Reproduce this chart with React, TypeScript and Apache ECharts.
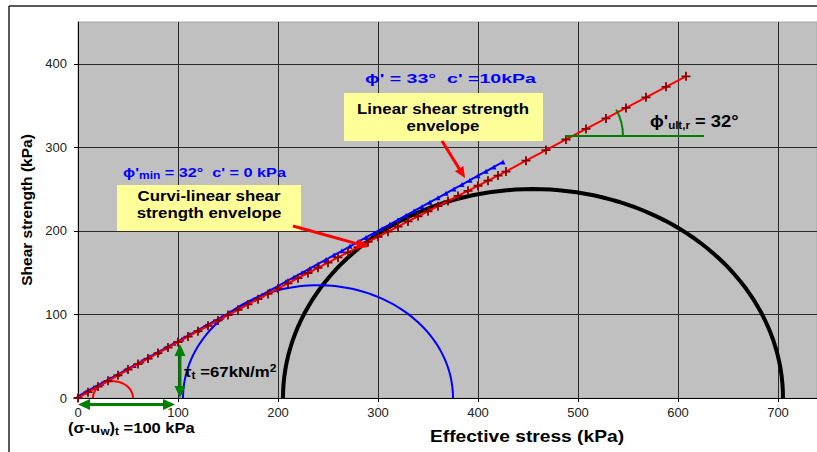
import React, { useEffect, useRef } from "react";
import * as echarts from "echarts";

// Curvi-linear shear strength envelope (effective stress, shear strength) in kPa
const curviStress = [
  0, 10, 20, 30, 40, 50, 60, 70, 80, 90, 100, 110, 120, 130, 140, 150, 160, 170, 180, 190, 200,
  210, 220, 230, 240, 250, 260, 270, 280, 290, 300, 310, 320, 330, 340, 350, 360, 370, 380, 390,
  400, 410, 420, 428, 448, 468, 488, 508, 528, 548, 568, 588, 608,
];
const curviShear = [
  0, 7, 13.7, 20.5, 27.2, 34, 40.6, 47.2, 53.8, 60.4, 67, 73.5, 80, 86.4, 92.8, 99.2, 105.6, 112,
  118.3, 124.6, 130.9, 137.2, 143.4, 149.6, 155.8, 162, 168.2, 174.4, 180.6, 186.8, 193, 199.1,
  205.2, 211.3, 217.4, 223.5, 229.6, 235.7, 241.8, 247.9, 254, 260.1, 266.2, 271, 284, 296.7, 309.4,
  322, 334.6, 347.2, 359.8, 372.4, 385,
];

// Linear shear strength envelope
const linearStress = [
  0, 8, 16, 24, 32, 40, 48, 56, 64, 72, 80, 88, 96, 104, 112, 120, 128, 136, 144, 152, 160, 168,
  176, 184, 192, 200, 208, 216, 224, 232, 240, 248, 256, 264, 272, 280, 288, 296, 304, 312, 320,
  328, 336, 344, 352, 360, 368, 376, 384, 392, 400, 408, 416, 425,
];
const linearShear = [
  2, 7.3, 12.6, 17.8, 23.1, 28.4, 33.7, 39, 44.2, 49.5, 54.8, 60.1, 65.4, 70.6, 75.9, 81.2, 86.5,
  91.8, 97, 102.3, 107.6, 112.9, 118.2, 123.4, 128.7, 134, 139.3, 144.6, 149.8, 155.1, 160.4,
  165.7, 171, 176.2, 181.5, 186.8, 192.1, 197.4, 202.6, 207.9, 213.2, 218.5, 223.8, 229, 234.3,
  239.6, 244.9, 250.2, 255.4, 260.7, 266, 271.3, 276.6, 282.5,
];

// Mohr circles: minor and major principal effective stresses (kPa)
const sigma3 = [205, 105, 15];
const sigma1 = [705, 375, 55];

// Annotated values
const tensileStress = 100;
const tensileShear = 67;

const xTicks = [0, 100, 200, 300, 400, 500, 600, 700];
const yTicks = [0, 100, 200, 300, 400];

const FONT = "'Liberation Sans', Arial, sans-serif";
const BLUE = "#0000ff";
const circleColors = ["#000000", BLUE, "#ff0000"];
const circleWidths = [4, 2, 2];

function arrow(
  x1: number, y1: number, x2: number, y2: number,
  color: string, width: number, both: boolean, headLen = 11, headW = 10
) {
  const els: any[] = [];
  const ang = Math.atan2(y2 - y1, x2 - x1);
  const head = (tx: number, ty: number, a: number) => {
    const bx = tx - headLen * Math.cos(a);
    const by = ty - headLen * Math.sin(a);
    const nx = (-Math.sin(a) * headW) / 2;
    const ny = (Math.cos(a) * headW) / 2;
    return {
      type: "polygon",
      shape: { points: [[tx, ty], [bx + nx, by + ny], [bx - nx, by - ny]] },
      style: { fill: color },
      z: 100,
    };
  };
  const sx = both ? x1 + (headLen - 2) * Math.cos(ang) : x1;
  const sy = both ? y1 + (headLen - 2) * Math.sin(ang) : y1;
  const ex = x2 - (headLen - 2) * Math.cos(ang);
  const ey = y2 - (headLen - 2) * Math.sin(ang);
  els.push({
    type: "line",
    shape: { x1: sx, y1: sy, x2: ex, y2: ey },
    style: { stroke: color, lineWidth: width },
    z: 100,
  });
  els.push(head(x2, y2, ang));
  if (both) els.push(head(x1, y1, ang + Math.PI));
  return els;
}

export default function App() {
  const ref = useRef<HTMLDivElement>(null);

  useEffect(() => {
    if (!ref.current) return;
    const chart = echarts.init(ref.current, null, { renderer: "svg" });

    const circleData = sigma3.map((s, i) => [s, sigma1[i]]);

    chart.setOption({
      animation: false,
      textStyle: { fontFamily: FONT },
      grid: {
        left: 78,
        top: 22,
        right: 0,
        bottom: 54,
        show: true,
        backgroundColor: "#c0c0c0",
        borderColor: "#a8a8a8",
        borderWidth: 1,
      },
      xAxis: {
        type: "value",
        min: 0,
        max: 739,
        interval: 100,
        axisLine: { show: true, onZero: false, lineStyle: { color: "#000", width: 1 } },
        axisTick: { show: true, length: 4, lineStyle: { color: "#000" } },
        axisLabel: {
          color: "#222",
          fontSize: 13,
          margin: 8,
          showMaxLabel: false,
          formatter: (v: number) => (xTicks.includes(v) ? String(v) : ""),
        },
        splitLine: {
          show: true,
          showMinLine: false,
          showMaxLine: false,
          lineStyle: { color: "#2a2a2a", width: 1 },
        },
      },
      yAxis: {
        type: "value",
        min: 0,
        max: 450,
        interval: 100,
        name: "Shear strength (kPa)",
        nameLocation: "middle",
        nameGap: 41,
        nameTextStyle: { fontSize: 15.5, fontWeight: "bold", color: "#000", fontFamily: FONT },
        axisLine: { show: true, lineStyle: { color: "#000", width: 1 } },
        axisTick: { show: true, length: 4, lineStyle: { color: "#000" } },
        axisLabel: {
          color: "#222",
          fontSize: 13,
          margin: 11,
          showMaxLabel: false,
          formatter: (v: number) => (yTicks.includes(v) ? String(v) : ""),
        },
        splitLine: {
          show: true,
          showMinLine: false,
          showMaxLine: false,
          lineStyle: { color: "#2a2a2a", width: 1 },
        },
      },
      series: [
        {
          type: "custom",
          name: "Mohr circles",
          clip: true,
          data: circleData,
          encode: { x: [0, 1] },
          renderItem: (params: any, api: any) => {
            const s3 = api.value(0);
            const s1 = api.value(1);
            const c = (s3 + s1) / 2;
            const r = (s1 - s3) / 2;
            const pts: number[][] = [];
            for (let a = 0; a <= 180; a += 2) {
              const t = (a * Math.PI) / 180;
              pts.push(api.coord([c - r * Math.cos(t), r * Math.sin(t)]));
            }
            return {
              type: "polyline",
              shape: { points: pts },
              style: {
                stroke: circleColors[params.dataIndex],
                lineWidth: circleWidths[params.dataIndex],
                fill: null,
              },
            };
          },
          z: 2,
        },
        {
          type: "line",
          name: "Linear envelope",
          data: linearStress.map((x, i) => [x, linearShear[i]]),
          symbol: "triangle",
          symbolSize: 5,
          showAllSymbol: true,
          lineStyle: { color: BLUE, width: 2 },
          itemStyle: { color: BLUE },
          z: 3,
        },
        {
          type: "line",
          name: "Curvi-linear envelope",
          data: curviStress.map((x, i) => [x, curviShear[i]]),
          symbol: "path://M4,0h2v10h-2zM0,4h10v2h-10z",
          symbolSize: 9,
          showAllSymbol: true,
          lineStyle: { color: "#ff0000", width: 2 },
          itemStyle: { color: "#8a0000" },
          z: 4,
        },
      ],
    });

    const p = (x: number, y: number) =>
      chart.convertToPixel({ gridIndex: 0 }, [x, y]) as number[];

    const origin = p(0, 0);
    const tensile = p(tensileStress, 0);
    const vBase = p(tensileStress + 2, 0);
    const vTop = p(tensileStress + 2, tensileShear);

    const bold = { fontFamily: FONT, fontWeight: "bold" };
    const subRich = {
      b: { ...bold, fontSize: 14, lineHeight: 17, fill: "#000" },
      sub: { ...bold, fontSize: 10, lineHeight: 9, verticalAlign: "bottom", fill: "#000" },
      sup: { ...bold, fontSize: 10, lineHeight: 12, verticalAlign: "top", fill: "#000" },
    };
    const blueRich = {
      b: { ...bold, fontSize: 13.5, lineHeight: 16, fill: BLUE },
      sub: { ...bold, fontSize: 10, lineHeight: 9, verticalAlign: "bottom", fill: BLUE },
    };

    const graphic: any[] = [
      // outer frame
      { type: "line", shape: { x1: 9, y1: 6, x2: 817, y2: 6 }, style: { stroke: "#222", lineWidth: 1.5 } },
      { type: "line", shape: { x1: 9, y1: 6, x2: 9, y2: 452 }, style: { stroke: "#222", lineWidth: 1.5 } },
      // x-axis title
      {
        type: "text",
        x: 527,
        y: 437,
        scaleX: 1.2,
        style: {
          text: "Effective stress (kPa)",
          ...bold,
          fontSize: 16,
          fill: "#000",
          align: "center",
          verticalAlign: "middle",
        },
      },
      // horizontal tensile stress arrow
      ...arrow(origin[0], 404.5, tensile[0] - 3, 404.5, "#008000", 3, true, 12, 11),
      // vertical tensile shear arrow
      ...arrow(vBase[0], vBase[1], vTop[0], vTop[1] + 2, "#008000", 3, true, 12, 11),
      {
        type: "text",
        x: 68,
        y: 428,
        scaleX: 1.18,
        style: {
          text: "{b|(σ-u}{sub|w}{b|)}{sub|t}{b| =100 kPa}",
          rich: subRich,
          fill: "#000",
          align: "left",
          verticalAlign: "middle",
        },
        z: 100,
      },
      {
        type: "text",
        x: 184,
        y: 372,
        scaleX: 1.2,
        style: {
          text: "{b|τ}{sub|t}{b| =67kN/m}{sup|2}",
          rich: subRich,
          fill: "#000",
          align: "left",
          verticalAlign: "middle",
        },
        z: 100,
      },
      // linear envelope label
      {
        type: "text",
        x: 365,
        y: 79,
        scaleX: 1.45,
        style: {
          text: "{b|ϕ' = 33°  c' =10kPa}",
          rich: blueRich,
          fill: BLUE,
          align: "left",
          verticalAlign: "middle",
        },
        z: 100,
      },
      { type: "rect", shape: { x: 344, y: 93, width: 199, height: 48 }, style: { fill: "#ffff99" }, z: 90 },
      {
        type: "text",
        x: 443,
        y: 117,
        scaleX: 1.16,
        style: {
          text: "Linear shear strength\nenvelope",
          ...bold,
          fontSize: 14.5,
          lineHeight: 17,
          fill: "#000",
          align: "center",
          verticalAlign: "middle",
        },
        z: 100,
      },
      ...arrow(442, 141, 465, 178, "#ff0000", 3, false, 11, 10),
      // curvi-linear envelope label
      {
        type: "text",
        x: 123,
        y: 172,
        scaleX: 1.2,
        style: {
          text: "{b|ϕ'}{sub|min}{b| = 32°  c' = 0 kPa}",
          rich: blueRich,
          fill: BLUE,
          align: "left",
          verticalAlign: "middle",
        },
        z: 100,
      },
      { type: "rect", shape: { x: 117, y: 185, width: 184, height: 46 }, style: { fill: "#ffff99" }, z: 90 },
      {
        type: "text",
        x: 209,
        y: 204,
        scaleX: 1.16,
        style: {
          text: "Curvi-linear shear\nstrength envelope",
          ...bold,
          fontSize: 14.5,
          lineHeight: 17,
          fill: "#000",
          align: "center",
          verticalAlign: "middle",
        },
        z: 100,
      },
      ...arrow(293, 226, 369, 247, "#ff0000", 3, false, 12, 10),
      // ultimate friction angle marker
      { type: "line", shape: { x1: 565, y1: 136, x2: 704, y2: 136 }, style: { stroke: "#008000", lineWidth: 2 }, z: 100 },
      {
        type: "arc",
        shape: { cx: 568, cy: 136, r: 55, startAngle: -0.5, endAngle: 0, clockwise: true },
        style: { stroke: "#008000", lineWidth: 2, fill: null },
        z: 100,
      },
      {
        type: "text",
        x: 650,
        y: 121,
        scaleX: 1.15,
        style: {
          text: "{b|ϕ'}{sub|ult,r}{b| = 32°}",
          rich: {
            b: { ...bold, fontSize: 16, lineHeight: 19, fill: "#000" },
            sub: { ...bold, fontSize: 10, lineHeight: 10, verticalAlign: "bottom", fill: "#000" },
          },
          fill: "#000",
          align: "left",
          verticalAlign: "middle",
        },
        z: 100,
      },
    ];

    chart.setOption({ graphic });

    return () => chart.dispose();
  }, []);

  return (
    <div
      ref={ref}
      style={{ position: "fixed", left: 0, top: 0, width: 817, height: 452, background: "#fff" }}
    />
  );
}
